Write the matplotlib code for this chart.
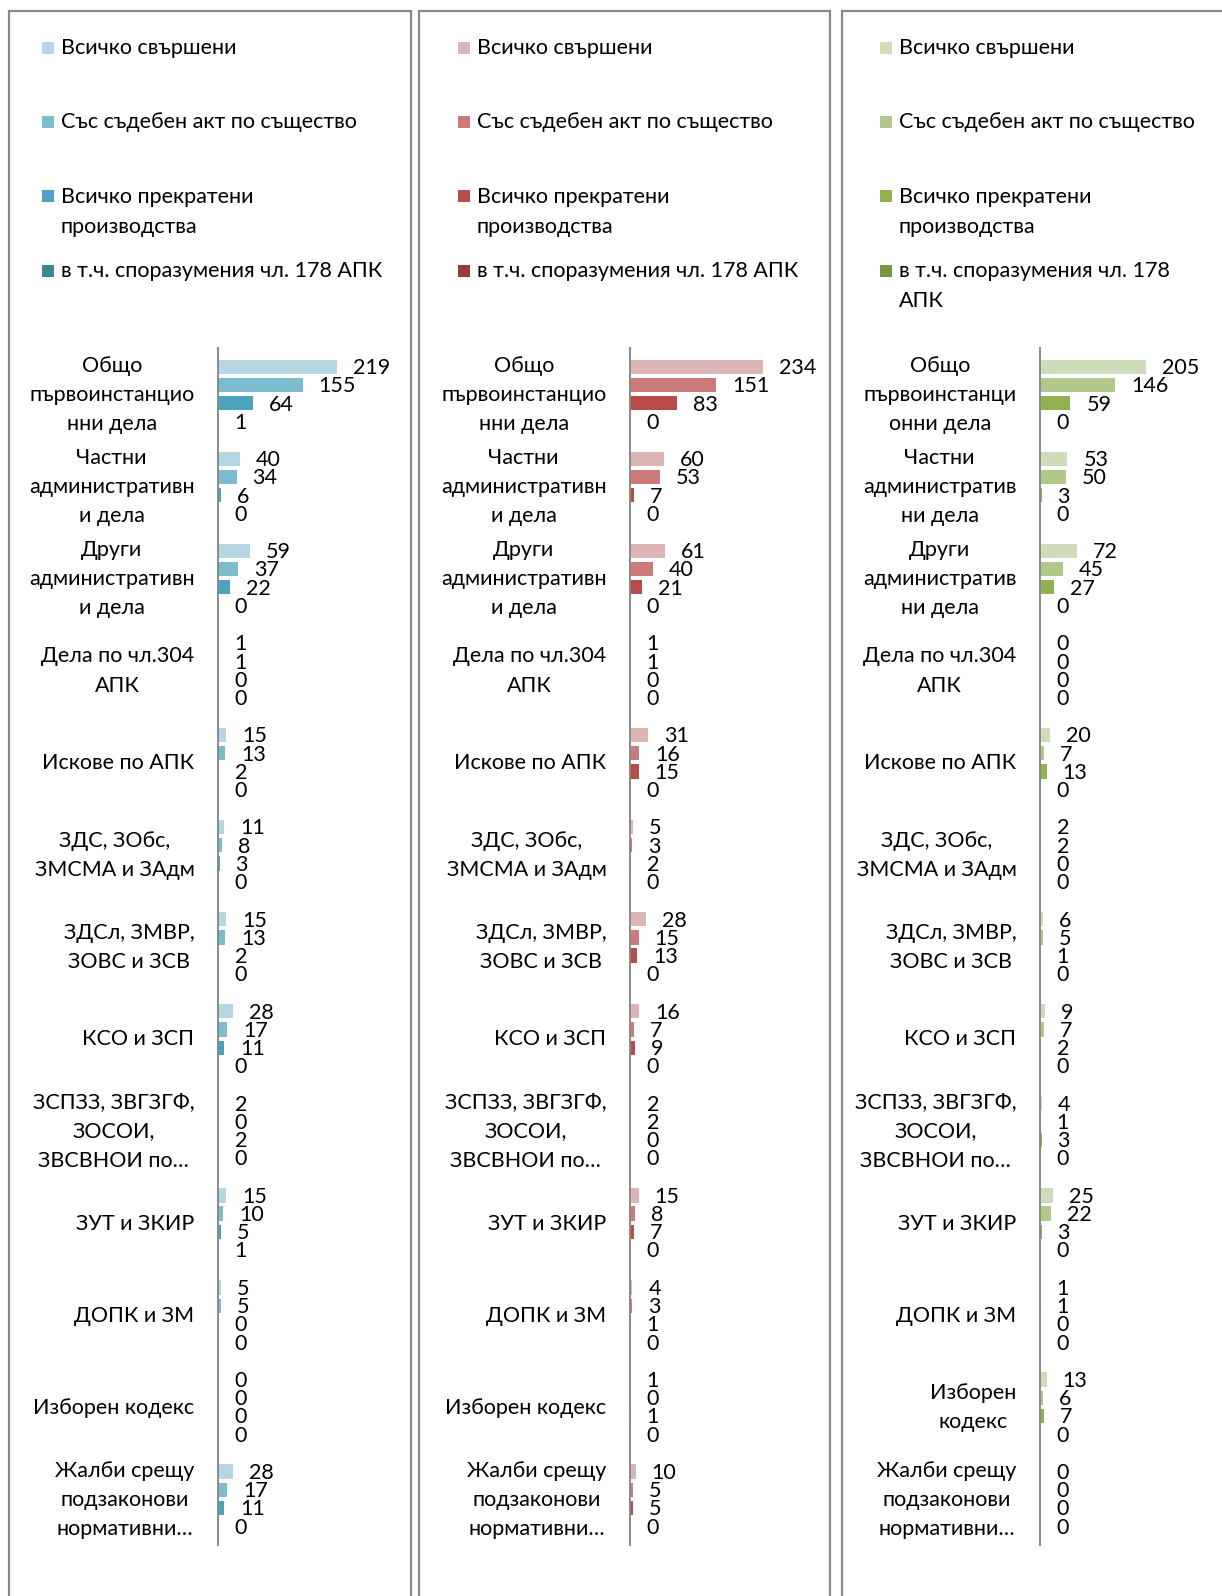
import matplotlib
matplotlib.use("Agg")
import matplotlib.pyplot as plt
from matplotlib.patches import Rectangle
import numpy as np

plt.rcParams['font.family'] = ['Lato', 'Noto Sans', 'DejaVu Sans']

series_names = ["Всичко свършени", "Със съдебен акт по същество",
                "Всичко прекратени\nпроизводства", "в т.ч. споразумения чл. 178 АПК"]
series_names_p3 = ["Всичко свършени", "Със съдебен акт по същество",
                   "Всичко прекратени\nпроизводства", "в т.ч. споразумения чл. 178\nАПК"]

cats_p12 = ["Общо\nпървоинстанцио\nнни дела", "Частни\nадминистративн\nи дела",
            "Други\nадминистративн\nи дела", "Дела по чл.304\nАПК", "Искове по АПК",
            "ЗДС, ЗОбс,\nЗМСМА и ЗАдм", "ЗДСл, ЗМВР,\nЗОВС и ЗСВ", "КСО и ЗСП",
            "ЗСПЗЗ, ЗВГЗГФ,\nЗОСОИ,\nЗВСВНОИ по…", "ЗУТ и ЗКИР", "ДОПК и ЗМ",
            "Изборен кодекс", "Жалби срещу\nподзаконови\nнормативни…"]
cats_p3 = ["Общо\nпървоинстанци\nонни дела", "Частни\nадминистратив\nни дела",
           "Други\nадминистратив\nни дела", "Дела по чл.304\nАПК", "Искове по АПК",
           "ЗДС, ЗОбс,\nЗМСМА и ЗАдм", "ЗДСл, ЗМВР,\nЗОВС и ЗСВ", "КСО и ЗСП",
           "ЗСПЗЗ, ЗВГЗГФ,\nЗОСОИ,\nЗВСВНОИ по…", "ЗУТ и ЗКИР", "ДОПК и ЗМ",
           "Изборен\nкодекс", "Жалби срещу\nподзаконови\nнормативни…"]

# panel 1 (blue)
p1_done   = [219, 40, 59, 1, 15, 11, 15, 28, 2, 15, 5, 0, 28]
p1_merit  = [155, 34, 37, 1, 13, 8, 13, 17, 0, 10, 5, 0, 17]
p1_term   = [64, 6, 22, 0, 2, 3, 2, 11, 2, 5, 0, 0, 11]
p1_agree  = [1, 0, 0, 0, 0, 0, 0, 0, 0, 1, 0, 0, 0]
# panel 2 (red)
p2_done   = [234, 60, 61, 1, 31, 5, 28, 16, 2, 15, 4, 1, 10]
p2_merit  = [151, 53, 40, 1, 16, 3, 15, 7, 2, 8, 3, 0, 5]
p2_term   = [83, 7, 21, 0, 15, 2, 13, 9, 0, 7, 1, 1, 5]
p2_agree  = [0, 0, 0, 0, 0, 0, 0, 0, 0, 0, 0, 0, 0]
# panel 3 (green)
p3_done   = [205, 53, 72, 0, 20, 2, 6, 9, 4, 25, 1, 13, 0]
p3_merit  = [146, 50, 45, 0, 7, 2, 5, 7, 1, 22, 1, 6, 0]
p3_term   = [59, 3, 27, 0, 13, 0, 1, 2, 3, 3, 0, 7, 0]
p3_agree  = [0, 0, 0, 0, 0, 0, 0, 0, 0, 0, 0, 0, 0]

colors_p1 = ["#B5D6E2", "#7DBCCF", "#4BA3BD", "#3B849A"]
colors_p2 = ["#DEB5B5", "#CC7B7B", "#B84C4B", "#9C3B3B"]
colors_p3 = ["#CEDCB9", "#B0C88A", "#93B153", "#7A9442"]

W, H = 1222, 1596
fig = plt.figure(figsize=(W / 100, H / 100), dpi=100)

def fx(px):
    return px / W

def fy(py):
    return 1 - py / H

panels = [
    dict(border=(9, 411), axis_x=218, ax_w=180, xmax=330, cats=cats_p12,
         data=[p1_done, p1_merit, p1_term, p1_agree], colors=colors_p1,
         names=series_names, leg_sq=42, leg_tx=61),
    dict(border=(419, 830), axis_x=630, ax_w=180, xmax=316, cats=cats_p12,
         data=[p2_done, p2_merit, p2_term, p2_agree], colors=colors_p2,
         names=series_names, leg_sq=458, leg_tx=477),
    dict(border=(842, 1240), axis_x=1040, ax_w=170, xmax=329, cats=cats_p3,
         data=[p3_done, p3_merit, p3_term, p3_agree], colors=colors_p3,
         names=series_names_p3, leg_sq=880, leg_tx=899),
]

axis_top, axis_bot = 348, 1545
FS = 15.5
LS = 1.58
grey = "#8A8A8A"

leg_y = [48, 122, 212, 271]
leg_y_p3 = [48, 122, 212, 286]

for pi, p in enumerate(panels):
    # panel border
    b0, b1 = p["border"]
    fig.patches.append(Rectangle((fx(b0), fy(1610)), fx(b1 - b0), (1610 - 11) / H,
                                 transform=fig.transFigure, fill=False,
                                 edgecolor=grey, linewidth=1.6, zorder=0))
    ax = fig.add_axes([fx(p["axis_x"]), fy(axis_bot), fx(p["ax_w"]),
                       (axis_bot - axis_top) / H])
    ax.set_facecolor("none")
    n = len(p["cats"])
    y = np.arange(n)
    slot = 0.198
    for si, (vals, col) in enumerate(zip(p["data"], p["colors"])):
        yy = y + (si - 1.5) * slot
        ax.barh(yy, vals, height=0.155, color=col, edgecolor="none")
        for yv, v in zip(yy, vals):
            ax.annotate(str(v), xy=(v, yv), xytext=(11.5, -1), textcoords="offset points",
                        ha="left", va="center", fontsize=FS, color="#000000",
                        annotation_clip=False)
    ax.set_xlim(0, p["xmax"])
    ax.set_ylim(n - 0.5, -0.5)
    ax.set_yticks(y)
    ax.set_yticklabels([""] * n)
    # category labels (right-aligned block, centred lines)
    for yi, cat in zip(y, p["cats"]):
        ax.annotate(cat, xy=(0, yi), xycoords=("axes fraction", "data"),
                    xytext=(-17, -0.6), textcoords="offset points",
                    ha="right", va="center", multialignment="center",
                    fontsize=FS, linespacing=LS, color="#000000",
                    annotation_clip=False)
    ax.tick_params(axis="y", length=0, pad=0)
    ax.set_xticks([])
    for s in ["top", "right", "bottom"]:
        ax.spines[s].set_visible(False)
    ax.spines["left"].set_color(grey)
    ax.spines["left"].set_linewidth(1.4)

    # legend
    ly = leg_y_p3 if pi == 2 else leg_y
    first_line = [48, 122, 196, 271]
    for si, (name, col) in enumerate(zip(p["names"], p["colors"])):
        sq = 12
        fig.patches.append(Rectangle((fx(p["leg_sq"]), fy(first_line[si] + sq / 2)),
                                     fx(sq), sq / H, transform=fig.transFigure,
                                     facecolor=col, edgecolor="none"))
        fig.text(fx(p["leg_tx"]), fy(ly[si]), name, ha="left", va="center",
                 fontsize=FS, linespacing=LS, color="#000000")

fig.savefig("out.png", dpi=100)
